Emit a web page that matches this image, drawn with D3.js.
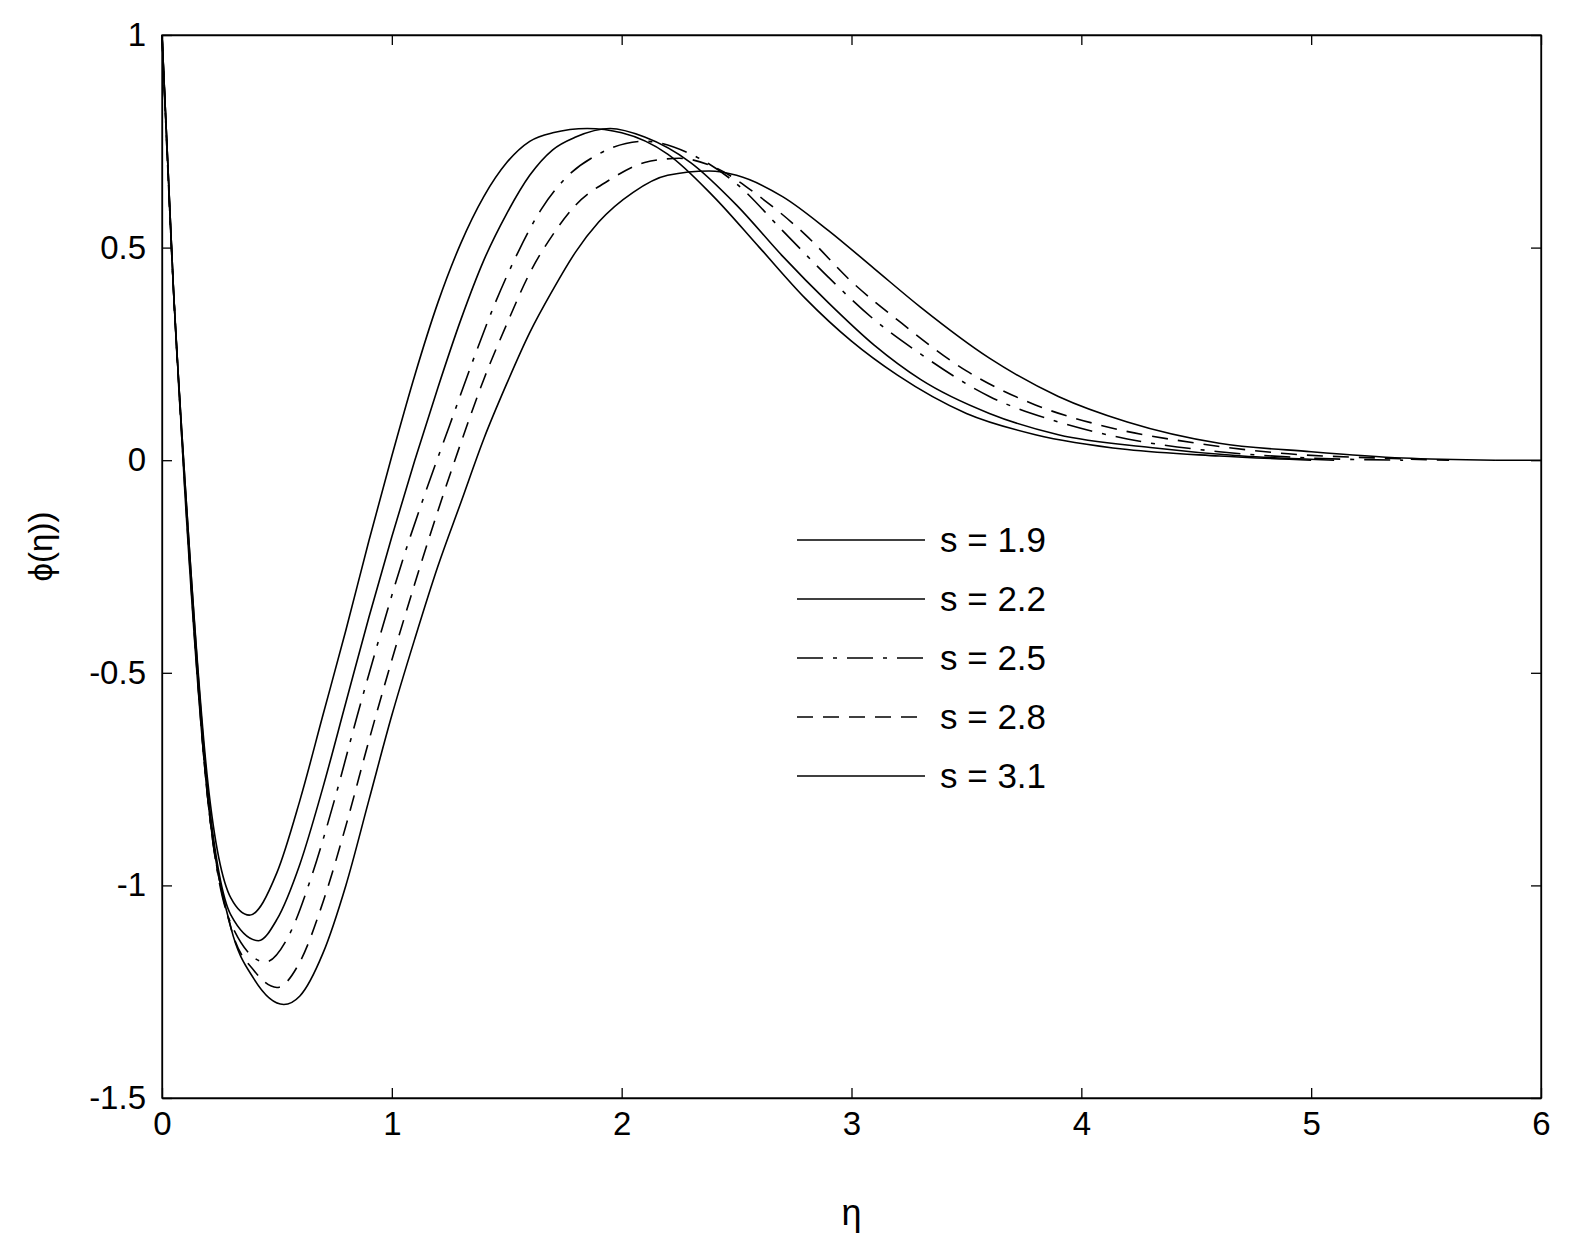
<!DOCTYPE html>
<html><head><meta charset="utf-8">
<script src="https://cdn.jsdelivr.net/npm/d3@7"></script>
<style>html,body{margin:0;background:#fff;overflow:hidden}svg{display:block}text{font-family:"Liberation Sans",Arial,sans-serif;fill:#000}</style>
</head><body><svg id="c" width="1582" height="1236"></svg>
<script>
// eta, phi pairs
var s19=[[0,1],[0.05,0.4],[0.1,-0.05],[0.2,-0.76],[0.3,-1.03],[0.38,-1.07],[0.5,-0.97],[0.6,-0.8],[0.7,-0.6],[0.8,-0.4],[0.9,-0.19],[1.0,0.01],[1.1,0.2],[1.2,0.37],[1.3,0.51],[1.4,0.62],[1.5,0.7],[1.6,0.75],[1.7,0.77],[1.85,0.78],[2.0,0.77],[2.2,0.72],[2.4,0.62],[2.6,0.5],[2.8,0.38],[3.0,0.28],[3.2,0.2],[3.5,0.11],[3.8,0.06],[4.2,0.025],[4.6,0.01],[5.0,0]];
var s22=[[0,1],[0.05,0.4],[0.1,-0.05],[0.2,-0.78],[0.3,-1.07],[0.42,-1.13],[0.5,-1.08],[0.6,-0.95],[0.7,-0.77],[0.8,-0.57],[0.9,-0.37],[1.0,-0.18],[1.1,0.0],[1.2,0.17],[1.3,0.33],[1.4,0.47],[1.5,0.58],[1.6,0.67],[1.7,0.73],[1.8,0.76],[1.95,0.78],[2.1,0.76],[2.3,0.7],[2.5,0.6],[2.7,0.48],[2.9,0.37],[3.1,0.27],[3.3,0.19],[3.6,0.11],[3.9,0.06],[4.3,0.03],[4.7,0.01],[5.1,0]];
var s25=[[0,1],[0.05,0.4],[0.1,-0.06],[0.2,-0.8],[0.3,-1.09],[0.45,-1.18],[0.55,-1.12],[0.65,-0.98],[0.75,-0.8],[0.85,-0.6],[0.95,-0.41],[1.05,-0.23],[1.15,-0.07],[1.25,0.08],[1.35,0.23],[1.45,0.37],[1.55,0.49],[1.65,0.59],[1.75,0.66],[1.9,0.72],[2.1,0.75],[2.3,0.72],[2.5,0.65],[2.7,0.54],[2.9,0.43],[3.1,0.33],[3.3,0.25],[3.6,0.15],[3.9,0.09],[4.2,0.05],[4.6,0.02],[5.0,0.005],[5.4,0]];
var s28=[[0,1],[0.05,0.4],[0.1,-0.07],[0.2,-0.8],[0.3,-1.1],[0.4,-1.2],[0.5,-1.24],[0.6,-1.18],[0.7,-1.04],[0.8,-0.86],[0.9,-0.66],[1.0,-0.47],[1.1,-0.29],[1.2,-0.12],[1.3,0.04],[1.4,0.19],[1.5,0.32],[1.6,0.44],[1.7,0.53],[1.8,0.6],[1.95,0.66],[2.1,0.7],[2.25,0.71],[2.4,0.69],[2.6,0.62],[2.8,0.53],[3.0,0.42],[3.2,0.33],[3.5,0.21],[3.8,0.13],[4.1,0.08],[4.5,0.04],[4.9,0.015],[5.3,0.005],[5.6,0]];
var s31=[[0,1],[0.05,0.4],[0.1,-0.08],[0.2,-0.8],[0.3,-1.1],[0.4,-1.22],[0.53,-1.28],[0.6,-1.26],[0.7,-1.16],[0.8,-1.0],[0.9,-0.8],[1.0,-0.6],[1.1,-0.42],[1.2,-0.25],[1.3,-0.1],[1.4,0.05],[1.5,0.18],[1.6,0.3],[1.7,0.4],[1.8,0.49],[1.9,0.56],[2.05,0.63],[2.2,0.67],[2.38,0.68],[2.5,0.67],[2.7,0.62],[2.9,0.54],[3.1,0.45],[3.3,0.36],[3.6,0.24],[3.9,0.15],[4.2,0.09],[4.6,0.04],[5.0,0.02],[5.4,0.005],[5.8,0]];
var series=[s19,s22,s25,s28,s31];
var labels=["s = 1.9","s = 2.2","s = 2.5","s = 2.8","s = 3.1"];
var dashes=[null,null,"26,10,4,10","16,10",null];
var xTicks=[0,1,2,3,4,5,6], yTicks=[-1.5,-1,-0.5,0,0.5,1];

var svg=d3.select("#c");
var L=162,R=1541,T=35,B=1098;
var x=d3.scaleLinear().domain([0,6]).range([L,R]);
var y=d3.scaleLinear().domain([-1.5,1]).range([B,T]);
var fmt=function(d){return String(d)};

svg.append("g").attr("transform","translate(0,"+B+")").call(d3.axisBottom(x).tickValues(xTicks).tickSizeInner(-10).tickSizeOuter(0).tickPadding(14).tickFormat(fmt));
svg.append("g").attr("transform","translate(0,"+T+")").call(d3.axisTop(x).tickValues(xTicks).tickSizeInner(-10).tickSizeOuter(0).tickFormat(""));
svg.append("g").attr("transform","translate("+L+",0)").call(d3.axisLeft(y).tickValues(yTicks).tickSizeInner(-10).tickSizeOuter(0).tickPadding(16).tickFormat(fmt));
svg.append("g").attr("transform","translate("+R+",0)").call(d3.axisRight(y).tickValues(yTicks).tickSizeInner(-10).tickSizeOuter(0).tickFormat(""));
svg.selectAll(".domain,.tick line").attr("stroke","#000").attr("stroke-width",1.3);
svg.selectAll(".tick text").style("font-size","33px").attr("fill","#000");
svg.append("rect").attr("x",L).attr("y",T).attr("width",R-L).attr("height",B-T).attr("fill","none").attr("stroke","#000").attr("stroke-width",1.3);

var line=d3.line().x(function(d){return x(d[0])}).y(function(d){return y(d[1])}).curve(d3.curveMonotoneX);
series.forEach(function(s,i){
	svg.append("path").attr("d",line(s)).attr("fill","none").attr("stroke","#000").attr("stroke-width",1.6).attr("stroke-dasharray",dashes[i]);
});
svg.append("line").attr("x1",x(5.8)).attr("x2",R).attr("y1",y(0)).attr("y2",y(0)).attr("stroke","#000").attr("stroke-width",1.6);

// legend
labels.forEach(function(t,i){
	var ly=540+i*59;
	svg.append("line").attr("x1",797).attr("x2",925).attr("y1",ly).attr("y2",ly).attr("stroke","#000").attr("stroke-width",1.6).attr("stroke-dasharray",dashes[i]);
	svg.append("text").attr("x",940).attr("y",ly+12).style("font-size","35px").text(t);
});

svg.append("text").attr("x",(L+R)/2).attr("y",1225).attr("text-anchor","middle").style("font-size","36px").text("η");
svg.append("text").attr("transform","translate(52,"+((T+B)/2-20)+") rotate(-90)").attr("text-anchor","middle").style("font-size","33px").text("ϕ(η))");
</script></body></html>
